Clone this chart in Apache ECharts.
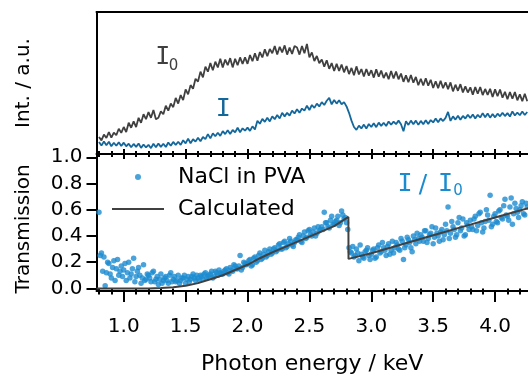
<!DOCTYPE html>
<html><head><meta charset="utf-8">
<script src="https://cdn.jsdelivr.net/npm/echarts@6/dist/echarts.min.js"></script>
<style>html,body{margin:0;padding:0;background:#fff}#c{width:528px;height:377px}</style>
</head><body><div id="c"></div><script>
// energy sampling grid (keV)
const eStart = 0.80, eStep = 0.02;
// top panel: incident (I0) and transmitted (I) intensities, arbitrary units
const i0Counts = [
 12.0,9.6,13.7,11.3,15.4,11.5,15.1,13.2,17.8,14.9,
 19.0,15.5,22.0,18.5,23.0,19.0,25.5,22.0,28.0,24.5,
 29.5,25.5,31.0,24.5,25.5,30.0,28.0,34.0,30.5,35.5,
 33.0,39.5,35.5,41.5,38.0,45.5,42.0,48.5,46.0,53.0,
 51.0,58.0,54.0,61.5,58.0,64.0,59.0,65.0,61.0,67.0,
 61.0,66.5,62.5,67.5,61.0,67.0,62.5,68.0,63.5,68.0,
 63.5,69.7,65.3,71.0,65.7,71.8,68.0,73.7,68.8,74.0,
 71.0,76.0,70.0,75.5,71.5,76.5,70.0,75.0,70.5,76.0,
 75.0,70.0,76.0,71.0,77.5,68.0,71.5,65.5,69.0,64.0,
 66.5,61.5,66.0,60.0,64.0,58.5,63.5,58.5,63.0,57.5,
 62.0,56.3,60.6,55.4,61.7,56.0,59.8,54.6,59.9,55.2,
 59.0,53.8,59.6,54.4,58.7,53.5,57.3,52.6,58.4,53.2,
 58.0,52.6,56.7,50.8,55.4,50.5,55.6,50.2,54.3,48.4,
 53.0,48.2,53.4,48.1,52.3,46.5,51.2,46.4,51.6,46.3,
 50.5,45.7,50.4,44.1,48.8,44.5,49.2,43.4,47.6,43.3,
 47.0,41.8,47.1,42.4,47.2,41.5,45.8,41.6,45.9,40.2,
 45.5,40.7,45.4,39.6,43.8,38.5,43.7,38.9,43.6,37.8,
 42.0,37.2,42.4,37.1];
const iCounts = [
 8.5,5.9,8.8,6.2,8.6,5.5,7.9,5.8,8.2,5.6,
 8.0,5.4,7.3,4.7,7.1,5.0,7.4,4.3,6.7,4.6,
 6.5,4.1,7.2,4.8,7.4,5.0,7.2,4.9,8.1,5.8,
 8.5,6.3,8.6,6.4,9.7,7.5,10.8,7.6,10.4,8.7,
 11.5,9.0,12.0,10.5,14.0,11.0,14.5,12.5,15.0,12.8,
 16.1,14.0,16.8,14.1,16.9,15.2,18.5,15.3,18.1,16.4,
 18.6,16.3,19.5,17.2,23.4,21.3,24.7,22.6,25.5,22.9,
 26.5,24.5,27.5,25.0,29.0,26.5,29.0,27.0,30.5,28.5,
 31.5,29.0,32.0,30.5,34.0,31.0,34.5,32.5,35.5,33.5,
 36.5,34.5,37.5,39.5,35.0,38.0,35.5,37.8,35.0,36.5,
 33.5,29.0,23.5,19.0,17.0,20.0,18.0,20.7,17.9,21.1,
 19.0,21.7,18.9,22.1,19.8,22.0,19.7,22.9,20.6,22.8,
 21.0,23.5,21.0,16.0,23.0,20.5,23.5,21.0,23.5,20.5,
 23.3,21.0,23.8,21.1,23.9,22.2,25.0,22.3,25.0,23.2,
 25.4,29.6,23.3,26.5,24.2,26.9,24.1,26.8,25.0,27.7,
 25.3,27.9,25.0,27.6,25.7,28.8,25.9,28.5,25.6,28.2,
 25.8,28.4,26.5,29.1,26.7,28.8,26.4,30.0,27.1,29.2,
 27.3,29.9,27.5,29.6];
// bottom panel: measured transmission (two interleaved sample sets)
const transAStart = 0.80;
const transA = [
 0.58,0.27,0.24,0.12,0.19,0.08,0.21,0.15,0.10,0.17,
 0.14,0.06,0.20,0.11,0.23,0.09,0.16,0.04,0.18,0.07,
 0.10,0.05,0.13,0.07,0.03,0.11,0.06,0.09,0.04,0.12,
 0.07,0.05,0.10,0.06,0.08,0.04,0.09,0.07,0.11,0.06,
 0.08,0.10,0.07,0.12,0.09,0.11,0.08,0.13,0.10,0.12,
 0.11,0.14,0.12,0.16,0.13,0.17,0.15,0.25,0.16,0.19,
 0.19,0.22,0.18,0.24,0.21,0.27,0.23,0.29,0.25,0.30,
 0.27,0.31,0.29,0.34,0.30,0.36,0.32,0.38,0.33,0.35,
 0.37,0.41,0.35,0.43,0.39,0.45,0.40,0.46,0.42,0.44,
 0.47,0.58,0.50,0.46,0.55,0.49,0.52,0.48,0.59,0.53,
 0.50,0.31,0.27,0.24,0.30,0.21,0.26,0.23,0.29,0.25,
 0.26,0.30,0.24,0.33,0.28,0.31,0.25,0.34,0.29,0.27,
 0.35,0.30,0.38,0.22,0.33,0.37,0.31,0.40,0.34,0.38,
 0.41,0.36,0.44,0.38,0.42,0.34,0.46,0.40,0.43,0.37,
 0.49,0.62,0.42,0.47,0.39,0.50,0.44,0.53,0.41,0.48,
 0.52,0.45,0.55,0.48,0.58,0.43,0.51,0.56,0.71,0.49,
 0.57,0.50,0.60,0.53,0.68,0.55,0.62,0.49,0.65,0.58,
 0.60,0.66,0.56,0.62];
const transBStart = 0.81;
const transB = [
 0.25,0.13,0.02,0.20,0.11,0.16,0.06,0.22,0.13,0.09,
 0.19,0.12,0.08,0.15,0.05,0.13,0.10,0.08,0.06,0.11,
 0.08,0.12,0.05,0.09,0.07,0.04,0.08,0.06,0.10,0.05,
 0.09,0.06,0.04,0.08,0.10,0.07,0.05,0.09,0.08,0.10,
 0.06,0.09,0.11,0.08,0.10,0.13,0.09,0.12,0.14,0.11,
 0.13,0.15,0.11,0.14,0.18,0.15,0.17,0.14,0.20,0.18,
 0.21,0.17,0.23,0.20,0.25,0.22,0.26,0.24,0.28,0.26,
 0.30,0.28,0.33,0.30,0.35,0.31,0.34,0.36,0.32,0.37,
 0.39,0.36,0.40,0.38,0.44,0.41,0.43,0.40,0.47,0.45,
 0.45,0.50,0.47,0.52,0.49,0.51,0.55,0.50,0.56,0.54,
 0.45,0.28,0.32,0.25,0.27,0.33,0.24,0.28,0.31,0.22,
 0.29,0.23,0.31,0.27,0.35,0.29,0.32,0.26,0.36,0.31,
 0.33,0.29,0.36,0.31,0.39,0.35,0.28,0.37,0.42,0.36,
 0.39,0.44,0.35,0.41,0.47,0.39,0.42,0.36,0.45,0.41,
 0.44,0.38,0.51,0.45,0.41,0.54,0.46,0.40,0.50,0.45,
 0.47,0.53,0.44,0.57,0.50,0.46,0.60,0.52,0.47,0.55,
 0.51,0.59,0.54,0.63,0.56,0.52,0.69,0.57,0.61,0.54,
 0.63,0.57,0.65];
// calculated transmission
const calcEnergy = [0.78,1.0,1.2,1.3,1.4,1.5,1.6,1.7,1.8,1.9,2.0,2.1,2.2,2.3,2.4,2.5,2.6,2.7,2.815,2.816,3.0,3.25,3.5,3.75,4.0,4.27];
const calcTrans  = [0,0,0,0.002,0.008,0.02,0.04,0.07,0.10,0.14,0.18,0.23,0.275,0.315,0.355,0.395,0.435,0.475,0.545,0.225,0.268,0.337,0.405,0.473,0.54,0.612];
// ticks
const xMajorTicks = [1.0,1.5,2.0,2.5,3.0,3.5,4.0];
const xMinorTicks = [0.8,0.9,1.1,1.2,1.3,1.4,1.6,1.7,1.8,1.9,2.1,2.2,2.3,2.4,2.6,2.7,2.8,2.9,3.1,3.2,3.3,3.4,3.6,3.7,3.8,3.9,4.1,4.2];
const yTicks = [0.0,0.2,0.4,0.6,0.8,1.0];

const FONT = 'DejaVu Sans';
const X_MIN = 0.78, X_MAX = 4.266;
const GRAY = '#404040', DARKBLUE = '#14679b', BLUE = '#1b8bcf';

const onGrid = (start, step, arr) => arr.map((v, k) => [+(start + k * step).toFixed(3), v]);
const i0Data = onGrid(eStart, eStep, i0Counts);
const iData = onGrid(eStart, eStep, iCounts);
const scatterData = onGrid(transAStart, eStep, transA).concat(onGrid(transBStart, eStep, transB));
const calcData = calcEnergy.map((e, k) => [e, calcTrans[k]]);

const base = { type: 'value', min: X_MIN, max: X_MAX, splitLine: { show: false },
  axisLabel: { show: false }, axisTick: { show: false }, axisLine: { show: false } };
const blackLine = { show: true, onZero: false, lineStyle: { color: '#000', width: 2 } };
const tick = (vals, len, inside) => ({ show: true, customValues: vals, length: len, inside: inside,
  lineStyle: { color: '#000', width: 2 } });

const chart = echarts.init(document.getElementById('c'), null, { renderer: 'canvas' });
chart.setOption({
  animation: false,
  backgroundColor: '#fff',
  grid: [
    { left: 96.5, top: 12, right: 0, height: 142 },
    { left: 96.5, top: 154, right: 0, height: 137 }
  ],
  xAxis: [
    Object.assign({}, base, { gridIndex: 0, position: 'top', axisLine: blackLine }),
    Object.assign({}, base, { gridIndex: 0, position: 'bottom', axisLine: blackLine, axisTick: tick(xMajorTicks, 5, false) }),
    Object.assign({}, base, { gridIndex: 0, position: 'bottom', axisTick: tick(xMajorTicks, 5, true) }),
    Object.assign({}, base, { gridIndex: 0, position: 'bottom', axisTick: tick(xMinorTicks, 3, false) }),
    Object.assign({}, base, { gridIndex: 0, position: 'bottom', axisTick: tick(xMinorTicks, 3, true) }),
    Object.assign({}, base, { gridIndex: 1, position: 'bottom', axisLine: blackLine,
      axisTick: tick(xMajorTicks, 11, false),
      axisLabel: { show: true, customValues: xMajorTicks, formatter: v => v.toFixed(1),
        fontFamily: FONT, fontSize: 20, color: '#000', margin: 26 },
      name: 'Photon energy / keV', nameLocation: 'middle', nameGap: 62,
      nameTextStyle: { fontFamily: FONT, fontSize: 22, color: '#000' } }),
    Object.assign({}, base, { gridIndex: 1, position: 'bottom', axisTick: tick(xMinorTicks, 6, false) })
  ],
  yAxis: [
    { type: 'value', gridIndex: 0, position: 'left', min: 0, max: 100, splitLine: { show: false },
      axisLabel: { show: false }, axisTick: { show: false }, axisLine: blackLine },
    { type: 'value', gridIndex: 1, position: 'left', min: -0.02, max: 1.025, splitLine: { show: false },
      axisLine: blackLine, axisTick: tick(yTicks, 10, false),
      axisLabel: { show: true, customValues: yTicks, formatter: v => v.toFixed(1),
        fontFamily: FONT, fontSize: 20, color: '#000', margin: 14 } }
  ],
  legend: {
    orient: 'vertical', left: 111, top: 166, padding: 0, itemWidth: 52, itemHeight: 6, itemGap: 10,
    textStyle: { fontFamily: FONT, fontSize: 22, color: '#000', padding: [0, 0, 0, 9] },
    data: [{ name: 'NaCl in PVA', icon: 'circle' }, { name: 'Calculated', itemStyle: { opacity: 0 } }]
  },
  series: [
    { name: 'I0', type: 'line', xAxisIndex: 1, yAxisIndex: 0, data: i0Data, symbol: 'none',
      lineStyle: { color: GRAY, width: 1.8 }, itemStyle: { color: GRAY } },
    { name: 'I', type: 'line', xAxisIndex: 1, yAxisIndex: 0, data: iData, symbol: 'none',
      lineStyle: { color: DARKBLUE, width: 1.8 }, itemStyle: { color: DARKBLUE } },
    { name: 'NaCl in PVA', type: 'scatter', xAxisIndex: 5, yAxisIndex: 1, data: scatterData,
      symbol: 'circle', symbolSize: 5.5, itemStyle: { color: BLUE } },
    { name: 'Calculated', type: 'line', xAxisIndex: 5, yAxisIndex: 1, data: calcData, symbol: 'none',
      lineStyle: { color: GRAY, width: 2 }, itemStyle: { color: GRAY } }
  ],
  graphic: [
    { type: 'text', x: 24, y: 83, rotation: Math.PI / 2,
      style: { text: 'Int. / a.u.', font: '20px "DejaVu Sans"', fill: '#000', align: 'center', verticalAlign: 'middle' } },
    { type: 'text', x: 24, y: 229, rotation: Math.PI / 2,
      style: { text: 'Transmission', font: '20px "DejaVu Sans"', fill: '#000', align: 'center', verticalAlign: 'middle' } },
    { type: 'text', x: 162.8, y: 57, style: { text: 'I', font: '25px "DejaVu Sans Mono"', fill: GRAY, align: 'center', verticalAlign: 'middle' } },
    { type: 'text', x: 173.5, y: 66.5, style: { text: '0', font: '15px "DejaVu Sans"', fill: GRAY, align: 'center', verticalAlign: 'middle' } },
    { type: 'text', x: 223.3, y: 109, style: { text: 'I', font: '25px "DejaVu Sans Mono"', fill: DARKBLUE, align: 'center', verticalAlign: 'middle' } },
    { type: 'text', x: 405, y: 184, style: { text: 'I', font: '25px "DejaVu Sans Mono"', fill: BLUE, align: 'center', verticalAlign: 'middle' } },
    { type: 'text', x: 423, y: 185, style: { text: '/', font: '25px "DejaVu Sans"', fill: BLUE, align: 'center', verticalAlign: 'middle' } },
    { type: 'text', x: 445.5, y: 184, style: { text: 'I', font: '25px "DejaVu Sans Mono"', fill: BLUE, align: 'center', verticalAlign: 'middle' } },
    { type: 'text', x: 458, y: 191.5, style: { text: '0', font: '15px "DejaVu Sans"', fill: BLUE, align: 'center', verticalAlign: 'middle' } }
  ]
});
</script></body></html>
